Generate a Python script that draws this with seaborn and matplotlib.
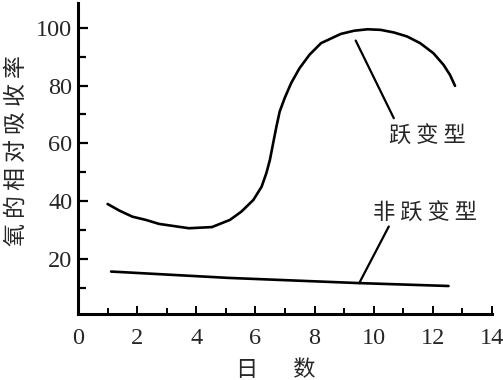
import numpy as np
import pandas as pd
import matplotlib
matplotlib.use("Agg")
import matplotlib.pyplot as plt
import seaborn as sns

# ---- data ----
climacteric_days = [1.00, 1.40, 1.84, 2.29, 2.74, 3.75, 4.53, 5.14, 5.53, 5.93, 6.21,
                    6.37, 6.49, 6.60, 6.71, 6.82, 6.99, 7.21, 7.49, 7.83, 8.22, 8.89,
                    9.34, 9.79, 10.23, 10.68, 11.13, 11.57, 12.02, 12.36, 12.58, 12.75]
climacteric_rate = [39.0, 36.7, 34.6, 33.5, 32.1, 30.6, 31.0, 33.5, 36.4, 40.4, 45.0,
                    49.7, 54.3, 60.1, 65.8, 71.0, 75.7, 80.9, 86.0, 90.7, 94.7, 97.9,
                    99.0, 99.5, 99.3, 98.4, 97.0, 94.7, 91.2, 87.2, 83.7, 79.9]
nonclim_days = [1.12, 5.09, 9.51, 12.53]
nonclim_rate = [15.6, 13.4, 11.6, 10.6]

x_major = [0, 2, 4, 6, 8, 10, 12, 14]
x_minor = [1, 3, 5, 7, 9, 11, 13]
y_major = [20, 40, 60, 80, 100]
y_minor = [10, 30, 50, 70, 90]

label_clim = "跃 变 型"
label_nonclim = "非 跃 变 型"
xlabel = "日       数"
ylabel = "氧 的 相 对 吸 收 率"

df_c = pd.DataFrame({"day": climacteric_days, "rate": climacteric_rate})
df_n = pd.DataFrame({"day": nonclim_days, "rate": nonclim_rate})

sns.set_style("ticks")
plt.rcParams["font.family"] = ["Noto Sans CJK SC", "DejaVu Sans"]

fig = plt.figure(figsize=(5.03, 3.80), dpi=100)
ax = fig.add_axes([78 / 503, 66 / 380, 414 / 503, 311 / 380])

sns.lineplot(data=df_c, x="day", y="rate", ax=ax, color="black", lw=1.9,
             sort=False, estimator=None)
sns.lineplot(data=df_n, x="day", y="rate", ax=ax, color="black", lw=1.9,
             sort=False, estimator=None)

ax.set_xlim(0, 14)
ax.set_ylim(0.9, 108.6)

sns.despine(ax=ax)
for s in ("left", "bottom"):
    ax.spines[s].set_linewidth(2.2)
    ax.spines[s].set_color("black")

ax.set_xticks(x_major)
ax.set_xticks(x_minor, minor=True)
ax.set_yticks(y_major)
ax.set_yticks(y_minor, minor=True)
ax.tick_params(axis="both", which="both", direction="in", color="black")
ax.tick_params(axis="y", which="major", length=7, width=1.6, pad=4)
ax.tick_params(axis="y", which="minor", length=6, width=1.6)
ax.tick_params(axis="x", which="major", length=6, width=1.4, pad=10)
ax.tick_params(axis="x", which="minor", length=4, width=1.4)
for lab in ax.get_xticklabels() + ax.get_yticklabels():
    lab.set_fontfamily("Liberation Serif")
    lab.set_fontsize(17.5)

ax.set_xlabel(xlabel, fontsize=16)
ax.xaxis.set_label_coords(0.478, -0.14)
ax.set_ylabel(ylabel, fontsize=16.5)
ax.yaxis.set_label_coords(-0.121, 0.527)

# annotations
ax.plot([9.39, 10.68], [95.6, 68.7], color="black", lw=1.6)
ax.plot([10.51, 9.51], [31.2, 11.6], color="black", lw=1.6)
ax.text(11.83, 62.6, label_clim, fontsize=16, ha="center", va="center")
ax.text(11.73, 36.2, label_nonclim, fontsize=16, ha="center", va="center")

ax.grid(False)
fig.savefig("out.png", dpi=100)
